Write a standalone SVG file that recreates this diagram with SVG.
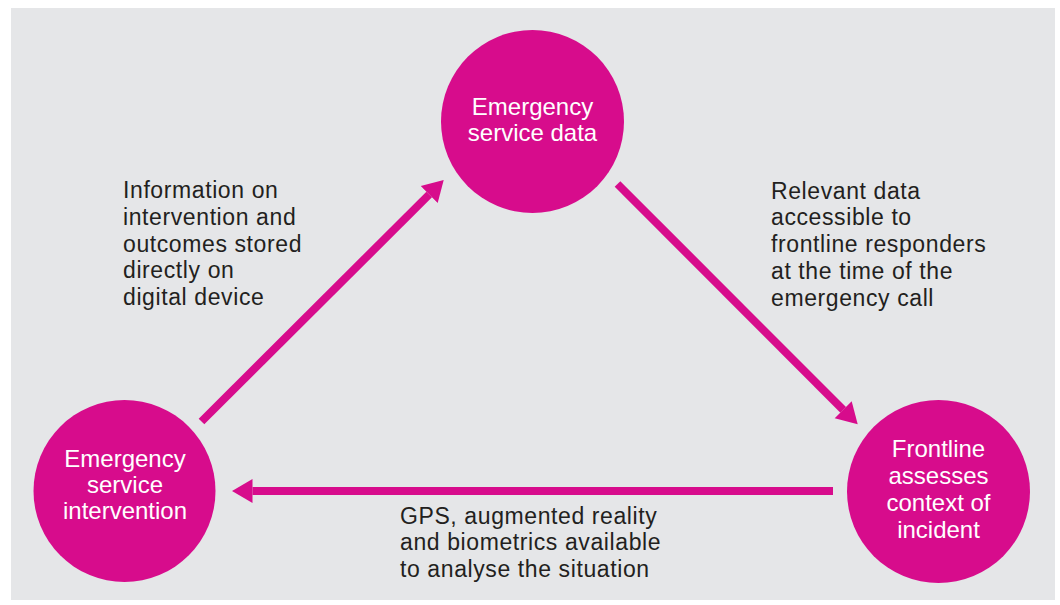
<svg xmlns="http://www.w3.org/2000/svg" width="1060" height="605" viewBox="0 0 1060 605">
  <style>
    .bg { fill: #ffffff; }
    .panel { fill: #e5e6e8; }
    .node { fill: #d70c8c; }
    .ntext { font-family: "Liberation Sans", Arial, sans-serif; font-size: 24px; fill: #ffffff; text-anchor: middle; }
    .label { font-family: "Liberation Sans", Arial, sans-serif; font-size: 23px; fill: #231f20; letter-spacing: 0.6px; }
    .conn { stroke: #d70c8c; stroke-width: 8; fill: none; stroke-linecap: butt; }
  </style>
  <defs>
    <marker id="head" markerUnits="userSpaceOnUse" markerWidth="22" markerHeight="26" viewBox="0 -13 22 26" refX="0" refY="0" orient="auto">
      <path d="M0,-12 L20.5,0 L0,12 Z" fill="#d70c8c"/>
    </marker>
  </defs>
  <rect class="bg" x="0" y="0" width="1060" height="605"/>
  <rect class="panel" x="11" y="8" width="1044" height="592"/>

  <g id="connectors">
    <line class="conn" x1="201.5" y1="421.5" x2="429.2" y2="194.5" marker-end="url(#head)"/>
    <line class="conn" x1="617.5" y1="184" x2="843.2" y2="409.8" marker-end="url(#head)"/>
    <line class="conn" x1="833" y1="491" x2="252.5" y2="491" marker-end="url(#head)"/>
  </g>

  <g id="node-data">
    <circle class="node" cx="532.5" cy="121.5" r="91.5"/>
    <text class="ntext" x="532.5" y="115">Emergency</text>
    <text class="ntext" x="532.5" y="140.5">service data</text>
  </g>

  <g id="node-frontline">
    <circle class="node" cx="938.5" cy="491.5" r="91.5"/>
    <text class="ntext" x="938.5" y="457">Frontline</text>
    <text class="ntext" x="938.5" y="483.5">assesses</text>
    <text class="ntext" x="938.5" y="510.5">context of</text>
    <text class="ntext" x="938.5" y="537.5">incident</text>
  </g>

  <g id="node-intervention">
    <circle class="node" cx="124.5" cy="491" r="91"/>
    <text class="ntext" x="125" y="467">Emergency</text>
    <text class="ntext" x="125" y="493">service</text>
    <text class="ntext" x="125" y="518.5">intervention</text>
  </g>

  <g id="labels">
    <text class="label" x="123" y="198">
      <tspan x="123" y="198">Information on</tspan>
      <tspan x="123" y="224.75">intervention and</tspan>
      <tspan x="123" y="251.5">outcomes stored</tspan>
      <tspan x="123" y="278.25">directly on</tspan>
      <tspan x="123" y="305">digital device</tspan>
    </text>
    <text class="label" x="771" y="198.5">
      <tspan x="771" y="198.5">Relevant data</tspan>
      <tspan x="771" y="225.25">accessible to</tspan>
      <tspan x="771" y="252">frontline responders</tspan>
      <tspan x="771" y="278.75">at the time of the</tspan>
      <tspan x="771" y="305.5">emergency call</tspan>
    </text>
    <text class="label" x="400" y="523.5">
      <tspan x="400" y="523.5">GPS, augmented reality</tspan>
      <tspan x="400" y="550">and biometrics available</tspan>
      <tspan x="400" y="576.5">to analyse the situation</tspan>
    </text>
  </g>
</svg>
